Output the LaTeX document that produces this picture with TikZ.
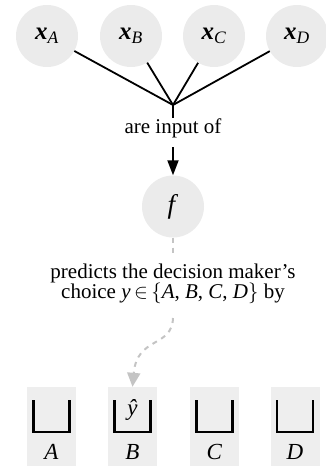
\documentclass[tikz,border=0pt]{standalone}
\usepackage{amsmath}
\usepackage{fontspec}
\setmainfont{Liberation Serif}
\usetikzlibrary{arrows.meta}
\definecolor{circ}{HTML}{EBEBEB}
\definecolor{boxg}{HTML}{EEEEEE}
\definecolor{dgray}{HTML}{C4C4C4}
\newcommand{\vi}[1]{\textit{#1}}
\newcommand{\xsub}[1]{\textbf{\textit{x}}\ensuremath{_{\text{\itshape\mdseries #1}}}}
\begin{document}
\begin{tikzpicture}[x=1pt,y=-1pt,font=\fontsize{21}{20.5}\selectfont,
  feat/.style={circle,fill=circ,minimum size=62pt,inner sep=0pt,font=\fontsize{25}{26}\selectfont},
  binbox/.style={fill=boxg,minimum width=49pt,minimum height=79pt,inner sep=0pt},
  blk/.style={line width=1.8pt,black},
  grl/.style={line width=2pt,dgray,dash pattern=on 5pt off 5pt},
  lbl/.style={font=\fontsize{23}{24}\selectfont}]
\useasboundingbox (0,0) rectangle (325,466);
% feature circles
\node[feat] (xa) at (47,36) {\xsub{A}};
\node[feat] (xb) at (131,36) {\xsub{B}};
\node[feat] (xc) at (214,36) {\xsub{C}};
\node[feat] (xd) at (297,36) {\xsub{D}};
\coordinate (j) at (173,105);
\coordinate (js) at (173,118);
\node (inp) at (173,128) {are input of};
\coordinate (as) at (173,147);
\node[feat,font=\fontsize{27}{28}\selectfont] (f) at (173,206.5) {\vi{f}};
\coordinate (fd) at (173,256);
\node[align=center] (pred) at (173,284) {predicts the decision maker’s\\choice \vi{y}\,$\in$\,$\{$\vi{A}, \vi{B}, \vi{C}, \vi{D}$\}$ by};
\coordinate (cs) at (173,318);
% choice boxes
\node[binbox] (ba) at (51.5,426.5) {};
\node[binbox] (bb) at (132.5,426.5) {};
\node[binbox] (bc) at (214.5,426.5) {};
\node[binbox] (bd) at (295,426.5) {};
\foreach \b in {ba,bb,bc,bd}{
  \draw[blk,line width=2.2pt] ([shift={(-18,-26.5)}]\b.center) |- ([shift={(18,5.5)}]\b.center) -- ([shift={(18,-26.5)}]\b.center);
}
\node[lbl] (la) at (51.5,452) {\vi{A}};
\node[lbl] (lb) at (132.5,452) {\vi{B}};
\node[lbl] (lc) at (214.5,452) {\vi{C}};
\node[lbl] (ld) at (295,452) {\vi{D}};
\node[lbl] (yhat) at (132.5,410) {\vi{ŷ}};
% connectors
\foreach \n in {xa,xb,xc,xd}{\draw[blk] (\n) -- (j);}
\draw[blk] (j) -- (js);
\draw[blk,-{Triangle[length=15pt,width=11pt]}] (as) -- (f);
\draw[grl] (f) -- (fd);
\draw[grl,-{Triangle[length=14pt,width=13pt]}] (cs) .. controls (172,348) and (137,336) .. (bb.north);
\end{tikzpicture}
\end{document}
